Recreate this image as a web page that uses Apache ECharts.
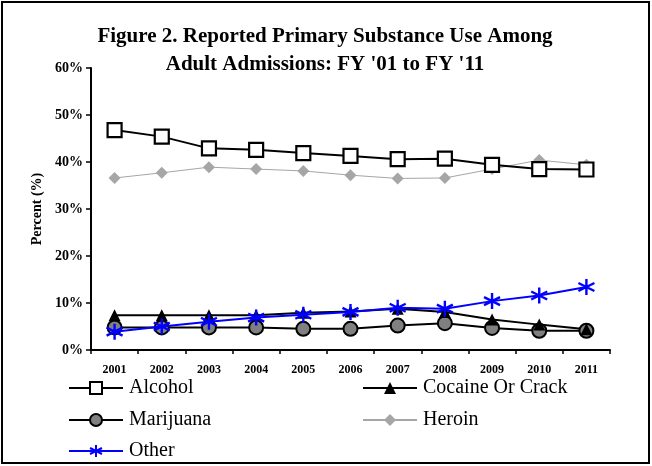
<!DOCTYPE html>
<html>
<head>
<meta charset="utf-8">
<script src="https://cdn.jsdelivr.net/npm/echarts@6/dist/echarts.min.js"></script>
<style>
  html, body { margin: 0; padding: 0; background: #fff; }
  #chart { width: 652px; height: 466px; }
</style>
</head>
<body>
<div id="chart"></div>
<script>
// Fiscal years on the category axis
const years = ['2001', '2002', '2003', '2004', '2005', '2006', '2007', '2008', '2009', '2010', '2011'];

// Share of adult admissions by primary substance (%)
const alcohol   = [46.8, 45.4, 42.9, 42.6, 41.9, 41.3, 40.6, 40.7, 39.4, 38.5, 38.4];
const cocaine   = [7.4, 7.4, 7.4, 7.4, 7.9, 8.2, 8.8, 8.1, 6.5, 5.4, 4.4];
const marijuana = [4.8, 4.8, 4.8, 4.8, 4.5, 4.5, 5.2, 5.7, 4.7, 4.1, 4.1];
const heroin    = [36.6, 37.7, 38.9, 38.5, 38.1, 37.2, 36.5, 36.6, 38.5, 40.4, 39.4];
const other     = [3.9, 5.0, 6.0, 6.9, 7.5, 8.1, 9.0, 8.8, 10.4, 11.6, 13.4];

const yTicks = [0, 10, 20, 30, 40, 50, 60];

const serif = '"Liberation Serif", "Times New Roman", serif';
const asterisk = 'path://M5 0 L5 10 M0.7 2.5 L9.3 7.5 M0.7 7.5 L9.3 2.5';

const chart = echarts.init(document.getElementById('chart'));

function lineSeries(name, data, opts) {
  return Object.assign({
    name: name,
    type: 'line',
    data: data,
    showAllSymbol: true,
    animation: false,
    z: 3
  }, opts);
}

// One legend box per entry, laid out in two columns
function legendItem(name, left, centerY) {
  return {
    data: [name],
    left: left,
    top: centerY - 11,
    padding: 0,
    itemWidth: 54,
    itemHeight: 15,
    textStyle: { fontFamily: serif, fontSize: 20, color: '#000', padding: [0, 0, 0, 1] }
  };
}

chart.setOption({
  backgroundColor: '#fff',
  animation: false,
  title: {
    text: 'Figure 2. Reported Primary Substance Use Among\nAdult Admissions: FY \'01 to FY \'11',
    left: 320,
    textAlign: 'center',
    top: 18,
    textStyle: {
      fontFamily: serif,
      fontWeight: 'bold',
      fontSize: 21,
      lineHeight: 28,
      color: '#000'
    }
  },
  legend: [
    legendItem('Alcohol', 68, 389),
    legendItem('Marijuana', 68, 421),
    legendItem('Other', 68, 452),
    legendItem('Cocaine Or Crack', 362, 389),
    legendItem('Heroin', 362, 421)
  ],
  grid: { left: 91, right: 42, top: 68, bottom: 116 },
  xAxis: {
    type: 'category',
    data: years,
    boundaryGap: true,
    axisLine: { lineStyle: { color: '#000', width: 2 } },
    axisTick: { show: true, inside: false, length: 4, lineStyle: { color: '#000', width: 1.5 } },
    axisLabel: {
      fontFamily: serif,
      fontWeight: 'bold',
      fontSize: 12,
      color: '#000',
      margin: 14,
      interval: 0
    },
    splitLine: { show: false }
  },
  yAxis: {
    type: 'value',
    min: yTicks[0],
    max: yTicks[yTicks.length - 1],
    interval: 10,
    name: 'Percent (%)',
    nameLocation: 'middle',
    nameGap: 41,
    nameTextStyle: { fontFamily: serif, fontWeight: 'bold', fontSize: 14, color: '#000' },
    axisLine: { show: true, lineStyle: { color: '#000', width: 2 } },
    axisTick: { show: true, length: 5, lineStyle: { color: '#000', width: 1.5 } },
    axisLabel: {
      formatter: '{value}%',
      fontFamily: serif,
      fontWeight: 'bold',
      fontSize: 14,
      color: '#000',
      margin: 8
    },
    splitLine: { show: false }
  },
  series: [
    lineSeries('Heroin', heroin, {
      symbol: 'diamond',
      symbolSize: 12,
      lineStyle: { color: '#a6a6a6', width: 1 },
      itemStyle: { color: '#a6a6a6', borderColor: '#a6a6a6', borderWidth: 0 },
      z: 2
    }),
    lineSeries('Alcohol', alcohol, {
      symbol: 'rect',
      symbolSize: 14,
      lineStyle: { color: '#000', width: 2 },
      itemStyle: { color: '#fff', borderColor: '#000', borderWidth: 2.2 }
    }),
    lineSeries('Marijuana', marijuana, {
      symbol: 'circle',
      symbolSize: 14,
      lineStyle: { color: '#000', width: 2 },
      itemStyle: { color: '#808080', borderColor: '#000', borderWidth: 2 }
    }),
    lineSeries('Cocaine Or Crack', cocaine, {
      symbol: 'triangle',
      symbolSize: 12,
      lineStyle: { color: '#000', width: 2 },
      itemStyle: { color: '#000', borderColor: '#000', borderWidth: 0 }
    }),
    lineSeries('Other', other, {
      symbol: asterisk,
      symbolSize: 16,
      lineStyle: { color: '#0000ff', width: 2 },
      itemStyle: { color: '#0000ff', borderColor: '#0000ff', borderWidth: 2.4 },
      z: 4
    })
  ],
  graphic: [
    {
      type: 'rect',
      shape: { x: 2, y: 2, width: 647, height: 461 },
      style: { fill: null, stroke: '#000', lineWidth: 2 },
      silent: true,
      z: 10
    }
  ]
});
</script>
</body>
</html>
